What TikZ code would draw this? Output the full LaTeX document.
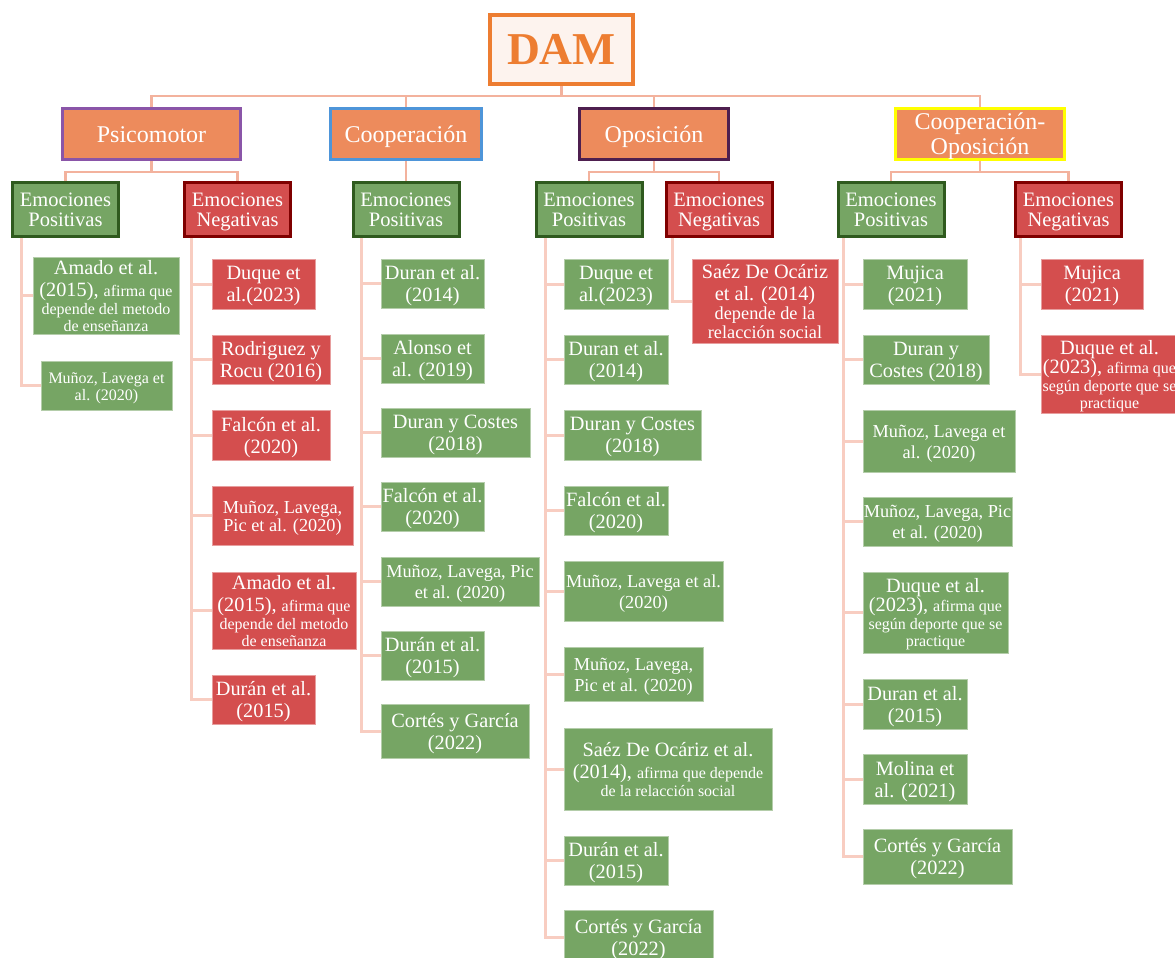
\documentclass[tikz,border=0pt]{standalone}
\usepackage{fontspec}
\setmainfont{Liberation Serif}
\usetikzlibrary{backgrounds}
\definecolor{orfill}{HTML}{ED8B5C}
\definecolor{orline}{HTML}{ED7D31}
\definecolor{damfill}{HTML}{FDF3EE}
\definecolor{psicoc}{HTML}{8A55A8}
\definecolor{coopc}{HTML}{4E95D9}
\definecolor{oposc}{HTML}{4E1F4F}
\definecolor{coc}{HTML}{FFFF00}
\definecolor{gfill}{HTML}{76A564}
\definecolor{gborder}{HTML}{2F5A1E}
\definecolor{rfill}{HTML}{D44E4E}
\definecolor{rborder}{HTML}{7F0000}
\definecolor{connc}{HTML}{F3B29D}
\definecolor{leafc}{HTML}{F8CDC1}
\newcommand{\fmain}{\fontsize{20.3}{22}\selectfont}
\newcommand{\fsm}{\fontsize{16}{17}\selectfont}
\newcommand{\fmz}{\fontsize{18.3}{21}\selectfont}
\newcommand{\fone}{\fontsize{24}{25}\selectfont}
\newcommand{\ftwo}{\fontsize{20.5}{20.3}\selectfont}
% name, box style, font, cx, cy, w, h, text
\newcommand{\boxnode}[8]{%
  \node[#2, minimum width=#6pt, minimum height=#7pt] (#1) at (#4,#5) {};
  \node[txt, font=#3] (#1-t) at ([yshift=-3.5pt]#1.center) {#8};}
% name, box style, font, x1, y1, x2, y2, text
\newcommand{\leafbox}[8]{%
  \node[#2, minimum width={(#6-#4)*1pt}, minimum height={(#7-#5)*1pt}] (#1) at ({(#4+#6)/2},{(#5+#7)/2}) {};
  \node[txt, font=#3] (#1-t) at ([yshift=-3.5pt]#1.center) {#8};}
\newcommand{\railto}[3]{\draw[leafconn] ([xshift=#2pt]#1.south west) |- (#3.west);}
\tikzset{
  conn/.style={draw=connc, line width=2.8pt},
  leafconn/.style={draw=leafc, line width=3pt},
  txt/.style={execute at begin node=\strut, execute at end node=\strut,
    text=white, inner sep=0pt, align=center},
  lvlone/.style={line width=3pt, fill=orfill, inner sep=0pt, minimum height=51pt},
  lvltwo/.style={line width=3pt, inner sep=0pt},
  lvlg/.style={lvltwo, draw=gborder, fill=gfill},
  lvlr/.style={lvltwo, draw=rborder, fill=rfill},
  leaf/.style={line width=0.8pt, inner sep=0pt},
  leafg/.style={leaf, fill=gfill, draw=gfill!55!white},
  leafr/.style={leaf, fill=rfill, draw=rfill!55!white},
}
\begin{document}
\begin{tikzpicture}[x=1pt,y=-1pt]
\useasboundingbox (0,0) rectangle (1175,958);
\clip (0,0) rectangle (1175,958);

% top
\node[draw=orline, line width=3.5pt, fill=damfill, text=orline, inner sep=0pt,
  minimum width=143pt, minimum height=69pt, font=\bfseries\fontsize{45.6}{46}\selectfont]
  (dam) at (561.5,49.5) {DAM};

\boxnode{psico}{lvlone, draw=psicoc}{\fone}{151.5}{134}{178}{51}{Psicomotor}
\boxnode{coop}{lvlone, draw=coopc}{\fone}{406}{134}{151}{51}{Cooperación}
\boxnode{opos}{lvlone, draw=oposc}{\fone}{654}{134}{149}{51}{Oposición}
\boxnode{co}{lvlone, draw=coc}{\fone}{980}{134}{169}{51}{Cooperación-\\Oposición}

\boxnode{pep}{lvlg}{\ftwo}{65.5}{209.5}{106}{54}{Emociones\\Positivas}
\boxnode{pen}{lvlr}{\ftwo}{237.5}{209.5}{106}{54}{Emociones\\Negativas}
\boxnode{cep}{lvlg}{\ftwo}{406}{209.5}{106}{54}{Emociones\\Positivas}
\boxnode{oep}{lvlg}{\ftwo}{589}{209.5}{106}{54}{Emociones\\Positivas}
\boxnode{oen}{lvlr}{\ftwo}{719}{209.5}{106}{54}{Emociones\\Negativas}
\boxnode{coep}{lvlg}{\ftwo}{891}{209.5}{106}{54}{Emociones\\Positivas}
\boxnode{coen}{lvlr}{\ftwo}{1068.5}{209.5}{106}{54}{Emociones\\Negativas}

% Psicomotor - positivas
\leafbox{a1}{leafg}{\fmain}{33}{257}{179}{334}{Amado et al.\\(2015), {\fsm afirma que}\\[-4pt]{\fsm depende del metodo}\\[-5pt]{\fsm de enseñanza}}
\leafbox{a2}{leafg}{\fsm}{41}{361}{172}{410}{Muñoz, Lavega et\\al. (2020)}
% Psicomotor - negativas
\leafbox{b1}{leafr}{\fmain}{212}{259}{315}{309}{Duque et\\al.(2023)}
\leafbox{b2}{leafr}{\fmain}{212}{335}{330}{384}{Rodriguez y\\Rocu (2016)}
\leafbox{b3}{leafr}{\fmain}{212}{410}{330}{460}{Falcón et al.\\(2020)}
\leafbox{b4}{leafr}{\fontsize{18.3}{18.5}\selectfont}{212}{486}{353}{545}{Muñoz, Lavega,\\Pic et al. (2020)}
\leafbox{b5}{leafr}{\fmain}{212}{572}{356}{649}{Amado et al.\\(2015), {\fsm afirma que}\\[-4pt]{\fsm depende del metodo}\\[-5pt]{\fsm de enseñanza}}
\leafbox{b6}{leafr}{\fmain}{212}{675}{315}{724}{Durán et al.\\(2015)}
% Cooperacion - positivas
\leafbox{c1}{leafg}{\fmain}{381}{259}{484}{308}{Duran et al.\\(2014)}
\leafbox{c2}{leafg}{\fmain}{381}{334}{484}{383}{Alonso et\\al. (2019)}
\leafbox{c3}{leafg}{\fmain}{381}{408}{530}{457}{Duran y Costes\\(2018)}
\leafbox{c4}{leafg}{\fmain}{381}{482}{484}{531}{Falcón et al.\\(2020)}
\leafbox{c5}{leafg}{\fmz}{381}{557}{539}{606}{Muñoz, Lavega, Pic\\et al. (2020)}
\leafbox{c6}{leafg}{\fmain}{381}{631}{484}{680}{Durán et al.\\(2015)}
\leafbox{c7}{leafg}{\fmain}{381}{704}{529}{758}{Cortés y García\\(2022)}
% Oposicion - positivas
\leafbox{d1}{leafg}{\fmain}{564}{259}{668}{309}{Duque et\\al.(2023)}
\leafbox{d2}{leafg}{\fmain}{564}{335}{668}{384}{Duran et al.\\(2014)}
\leafbox{d3}{leafg}{\fmain}{564}{410}{701}{460}{Duran y Costes\\(2018)}
\leafbox{d4}{leafg}{\fmain}{564}{486}{668}{535}{Falcón et al.\\(2020)}
\leafbox{d5}{leafg}{\fmz}{564}{561}{723}{621}{Muñoz, Lavega et al.\\(2020)}
\leafbox{d6}{leafg}{\fmz}{564}{647}{703}{701}{Muñoz, Lavega,\\Pic et al. (2020)}
\leafbox{d7}{leafg}{\fmain}{564}{728}{772}{810}{Saéz De Ocáriz et al.\\(2014), {\fsm afirma que depende}\\[-4pt]{\fsm de la relacción social}}
\leafbox{d8}{leafg}{\fmain}{564}{836}{668}{885}{Durán et al.\\(2015)}
\leafbox{d9}{leafg}{\fmain}{564}{910}{713}{964}{Cortés y García\\(2022)}
% Oposicion - negativas
\leafbox{e1}{leafr}{\fmain}{692}{259}{838}{343}{Saéz De Ocáriz\\et al. (2014)\\[-2.5pt]{\fontsize{18.3}{19}\selectfont depende de la}\\[-3pt]{\fontsize{18.3}{19}\selectfont relacción social}}
% Coop-Opos - positivas
\leafbox{f1}{leafg}{\fmain}{863}{259}{967}{309}{Mujica\\(2021)}
\leafbox{f2}{leafg}{\fmain}{863}{335}{989}{384}{Duran y\\Costes (2018)}
\leafbox{f3}{leafg}{\fmz}{863}{410}{1015}{472}{Muñoz, Lavega et\\al. (2020)}
\leafbox{f4}{leafg}{\fmz}{863}{497}{1012}{546}{Muñoz, Lavega, Pic\\et al. (2020)}
\leafbox{f5}{leafg}{\fmain}{863}{572}{1008}{653}{Duque et al.\\[-3pt](2023), {\fsm afirma que}\\[-4pt]{\fsm según deporte que se}\\[-5pt]{\fsm practique}}
\leafbox{f6}{leafg}{\fmain}{863}{679}{967}{729}{Duran et al.\\(2015)}
\leafbox{f7}{leafg}{\fmain}{863}{754}{967}{804}{Molina et\\al. (2021)}
\leafbox{f8}{leafg}{\fmain}{863}{829}{1012}{884}{Cortés y García\\(2022)}
% Coop-Opos - negativas
\leafbox{g1}{leafr}{\fmain}{1041}{259}{1143}{309}{Mujica\\(2021)}
\leafbox{g2}{leafr}{\fmain}{1041}{335}{1178}{413}{Duque et al.\\[-3pt](2023), {\fsm afirma que}\\[-4pt]{\fsm según deporte que se}\\[-5pt]{\fsm practique}}

\begin{pgfonlayer}{background}
  \draw[conn] (dam.south) -- (561.5,96) coordinate (busc);
  \draw[conn] (psico.north) |- (co.north |- busc) -- (co.north);
  \draw[conn] (coop.north) -- (coop.north |- busc);
  \draw[conn] (opos.north) -- (opos.north |- busc);
  \draw[conn] (psico.south) -- ++(0,11) -| (pep.north);
  \draw[conn] (psico.south) -- ++(0,11) -| (pen.north);
  \draw[conn] (coop.south) -- (cep.north);
  \draw[conn] (opos.south) -- ++(0,11) -| (oep.north);
  \draw[conn] (opos.south) -- ++(0,11) -| (oen.north);
  \draw[conn] (co.south) -- ++(0,11) -| (coep.north);
  \draw[conn] (co.south) -- ++(0,11) -| (coen.north);
  \foreach \l in {a1,a2} {\railto{pep}{10.5}{\l}}
  \foreach \l in {b1,b2,b3,b4,b5,b6} {\railto{pen}{8.5}{\l}}
  \foreach \l in {c1,c2,c3,c4,c5,c6,c7} {\railto{cep}{10}{\l}}
  \foreach \l in {d1,d2,d3,d4,d5,d6,d7,d8,d9} {\railto{oep}{11}{\l}}
  \foreach \l in {e1} {\railto{oen}{8}{\l}}
  \foreach \l in {f1,f2,f3,f4,f5,f6,f7,f8} {\railto{coep}{7}{\l}}
  \foreach \l in {g1,g2} {\railto{coen}{6.5}{\l}}
\end{pgfonlayer}
\end{tikzpicture}
\end{document}
